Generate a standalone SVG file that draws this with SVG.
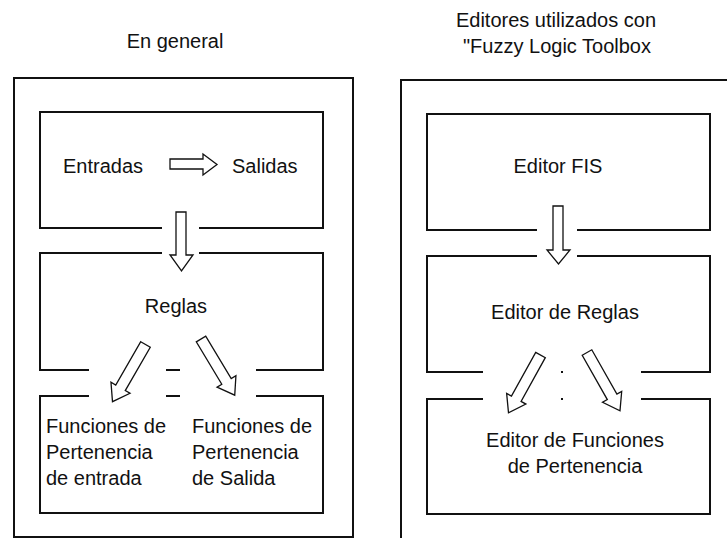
<svg xmlns="http://www.w3.org/2000/svg" width="727" height="538" viewBox="0 0 727 538">
<style>
.box{fill:none;stroke:#111;stroke-width:2}
.arr{fill:#fff;stroke:#111;stroke-width:1.3;stroke-linejoin:miter}
text{font-family:"Liberation Sans",Arial,sans-serif;font-size:20px;fill:#111}
.c{text-anchor:middle}
</style>
<rect width="727" height="538" fill="#fff"/>
<g id="left-title"><text class="c" x="175" y="48">En general</text></g>
<g id="right-title"><text class="c" x="556" y="27">Editores utilizados con</text><text class="c" x="557" y="53">"Fuzzy Logic Toolbox</text></g>
<g id="left-outer"><rect class="box" x="14" y="78" width="339" height="459"/></g>
<g id="right-outer"><rect class="box" x="401" y="80" width="360" height="480"/></g>
<g id="entradas-salidas">
<path class="box" d="M162,228 H40 V112 H323 V228 H199"/>
<text x="63" y="173">Entradas</text><text x="232" y="173">Salidas</text>
</g>
<g id="reglas">
<path class="box" d="M162,253 H40 V370 H89 M199,253 H323 V370 H256 M166,370 H180"/>
<text class="c" x="176" y="313">Reglas</text>
</g>
<g id="funciones">
<path class="box" d="M89,396 H40 V513 H323 V396 H256 M166,396 H180"/>
<text x="46" y="433">Funciones de</text><text x="46" y="459">Pertenencia</text><text x="46" y="485">de entrada</text>
<text x="192" y="433">Funciones de</text><text x="192" y="459">Pertenencia</text><text x="192" y="485">de Salida</text>
</g>
<g id="editor-fis">
<path class="box" d="M537,230 H427 V114 H710 V230 H577"/>
<text class="c" x="558" y="173">Editor FIS</text>
</g>
<g id="editor-reglas">
<path class="box" d="M537,256 H427 V372 H483 M577,256 H710 V372 H641"/>
<rect x="561" y="371" width="2" height="2" fill="#111"/>
<text class="c" x="565" y="319">Editor de Reglas</text>
</g>
<g id="editor-funciones">
<path class="box" d="M483,399 H427 V514 H710 V399 H641"/>
<rect x="561" y="398" width="2" height="2" fill="#111"/>
<text class="c" x="575" y="447">Editor de Funciones</text><text class="c" x="575" y="473">de Pertenencia</text>
</g>
<g id="connectors">
<path class="arr" d="M170,159 H203 V154 L217,164.5 L203,175 V169 H170 Z"/>
<path class="arr" d="M176,212 H186 V255 H193 L181.5,271 L170,255 H176 Z"/>
<path class="arr" d="M553,206 H563 V250 H570 L558.5,264 L547,250 H553 Z"/>
<path class="arr" transform="translate(145.5,344.5) rotate(30)" d="M-5.5,0 H5.5 V50 H11 L0,66 L-11,50 H-5.5 Z"/>
<path class="arr" transform="translate(201,339) rotate(-31)" d="M-5.5,0 H5.5 V49.5 H11 L0,65.5 L-11,49.5 H-5.5 Z"/>
<path class="arr" transform="translate(540.5,355) rotate(29)" d="M-5.5,0 H5.5 V50 H11 L0,66 L-11,50 H-5.5 Z"/>
<path class="arr" transform="translate(587,352.5) rotate(-29.5)" d="M-5.5,0 H5.5 V51 H11 L0,67 L-11,51 H-5.5 Z"/>
</g>
</svg>
